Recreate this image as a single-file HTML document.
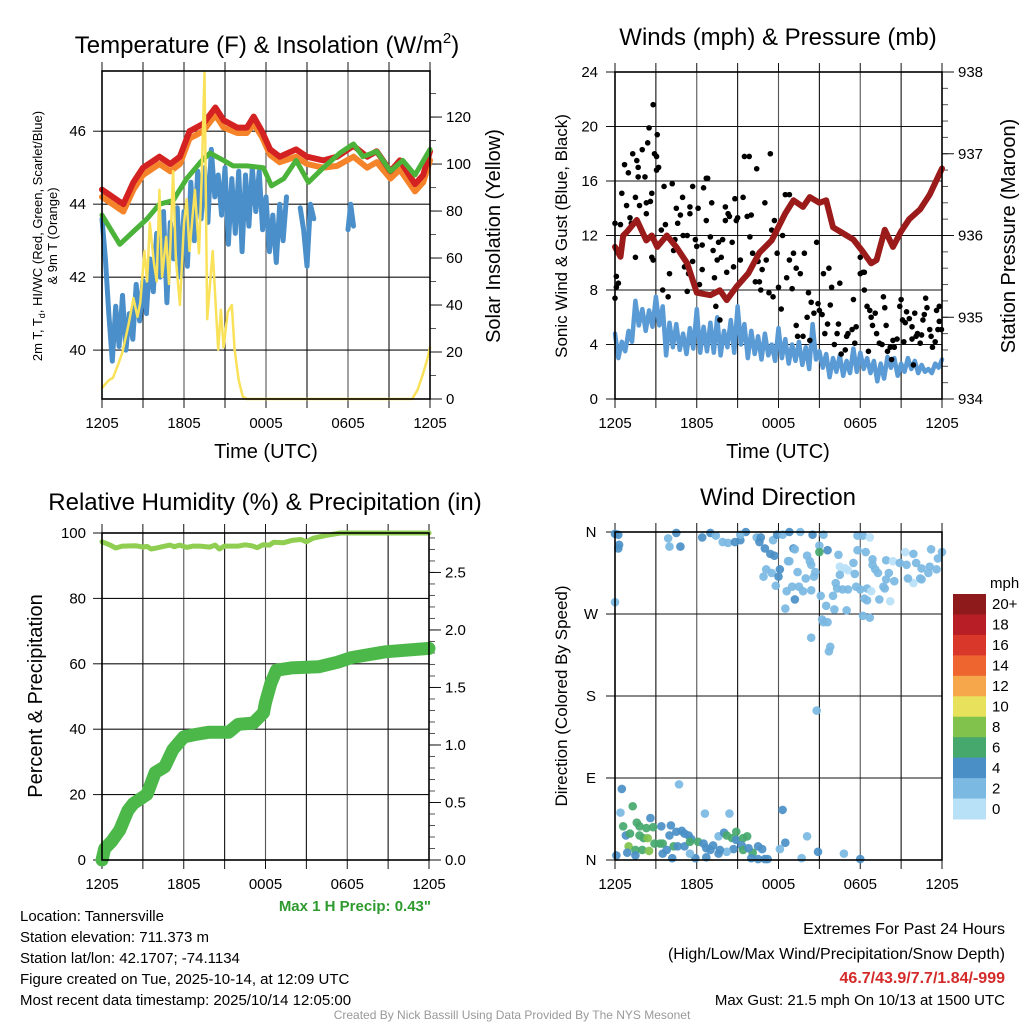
<!DOCTYPE html>
<html><head><meta charset="utf-8">
<style>
html,body{margin:0;padding:0;background:#fff;}
svg{display:block;font-family:"Liberation Sans",sans-serif;}
</style></head>
<body>
<svg id="chart" width="1024" height="1024" viewBox="0 0 1024 1024" xmlns="http://www.w3.org/2000/svg">
<rect x="0" y="0" width="1024" height="1024" fill="#fff"/>
<text x="267" y="53" font-size="24" text-anchor="middle">Temperature (F) &amp; Insolation (W/m<tspan font-size="15" dy="-10">2</tspan><tspan dy="10">)</tspan></text>
<text x="778" y="45" font-size="24" text-anchor="middle">Winds (mph) &amp; Pressure (mb)</text>
<text x="265" y="510" font-size="24" text-anchor="middle">Relative Humidity (%) &amp; Precipitation (in)</text>
<text x="778" y="505" font-size="24" text-anchor="middle">Wind Direction</text>
<text transform="translate(42,236) rotate(-90)" font-size="13" text-anchor="middle">2m T, T<tspan font-size="9" dy="3">d</tspan><tspan dy="-3">, HI/WC (Red, Green, Scarlet/Blue)</tspan></text>
<text transform="translate(57,236) rotate(-90)" font-size="13" text-anchor="middle">&amp; 9m T (Orange)</text>
<text transform="translate(500,236) rotate(-90)" font-size="20" text-anchor="middle">Solar Insolation (Yellow)</text>
<text x="266" y="458" font-size="20" text-anchor="middle">Time (UTC)</text>
<text transform="translate(567,236) rotate(-90)" font-size="17" text-anchor="middle">Sonic Wind &amp; Gust (Blue, Black)</text>
<text transform="translate(1015,236) rotate(-90)" font-size="20" text-anchor="middle">Station Pressure (Maroon)</text>
<text x="778" y="458" font-size="20" text-anchor="middle">Time (UTC)</text>
<text transform="translate(42,696) rotate(-90)" font-size="20" text-anchor="middle">Percent &amp; Precipitation</text>
<text transform="translate(567,696) rotate(-90)" font-size="17" text-anchor="middle">Direction (Colored By Speed)</text>
<text x="431" y="911" font-size="15" font-weight="bold" fill="#2e9a2e" text-anchor="end">Max 1 H Precip: 0.43"</text>
<g font-size="15">
<text x="20" y="921">Location: Tannersville</text>
<text x="20" y="942">Station elevation: 711.373 m</text>
<text x="20" y="963">Station lat/lon: 42.1707; -74.1134</text>
<text x="20" y="984">Figure created on Tue, 2025-10-14, at 12:09 UTC</text>
<text x="20" y="1005">Most recent data timestamp: 2025/10/14 12:05:00</text>
</g>
<g font-size="16" text-anchor="end">
<text x="1005" y="934">Extremes For Past 24 Hours</text>
<text x="1005" y="959">(High/Low/Max Wind/Precipitation/Snow Depth)</text>
<text x="1005" y="983" font-weight="bold" fill="#d42a2a">46.7/43.9/7.7/1.84/-999</text>
<text x="1005" y="1005" font-size="15">Max Gust: 21.5 mph On 10/13 at 1500 UTC</text>
</g>
<text x="512" y="1019" font-size="12" fill="#999" text-anchor="middle">Created By Nick Bassill Using Data Provided By The NYS Mesonet</text>
</svg>
<script>
const timeLabels = ["1205","1805","0005","0605","1205"];
const tempTicks = [40,42,44,46];
const insolTicks = [0,20,40,60,80,100,120];
const windTicks = [0,4,8,12,16,20,24];
const presTicks = [934,935,936,937,938];
const rhTicks = [0,20,40,60,80,100];
const precipTicks = ["0.0","0.5","1.0","1.5","2.0","2.5"];
const dirLabels = ["N","E","S","W","N"];
const dirTickDeg = [0,90,180,270,360];
const cbarLabels = ["20+","18","16","14","12","10","8","6","4","2","0"];
const cbarColors = ["#8e1a1c","#b81e25","#d9372a","#ee6530","#f6a74c","#e8e15c","#80c24b","#47a86d","#4a8fc6","#7bb9e3","#b8e1f7"];

const tRed = [0,1.56,2.3,3.0,4.2,5.0,5.7,6.4,7.4,8.3,8.9,9.9,10.6,11.1,11.7,12.3,13.0,14.2,15.0,16.2,17.2,18.4,19.4,20.1,21.1,21.8,22.9,23.5,24];
const redT = [44.4,44.0,44.6,45.0,45.3,45.1,45.3,46.0,46.2,46.65,46.3,46.1,46.1,46.4,46.0,45.5,45.3,45.5,45.3,45.2,45.3,45.6,45.3,45.45,44.9,45.2,44.55,44.8,45.45];
const orangeT = [44.2,43.8,44.4,44.8,45.1,44.9,45.1,45.8,46.0,46.45,46.1,45.95,45.95,46.2,45.85,45.35,45.15,45.3,45.1,45.0,45.05,45.3,45.0,45.15,44.7,44.95,44.35,44.6,45.2];
const tGreen = [0,1.3,2.3,3.3,4.2,5.2,6.2,7.2,7.9,8.9,9.6,10.6,11.8,12.4,13.3,14.2,15.1,16.2,17.4,18.4,19.1,20.1,21.1,22.0,22.9,24];
const greenT = [43.7,42.9,43.25,43.6,44.0,44.1,44.7,45.15,45.4,45.2,45.05,45.05,45.0,44.5,44.7,45.2,44.6,45.0,45.4,45.65,45.3,45.45,44.9,45.2,44.8,45.5];
const tBlue = [0,0.25,0.5,0.75,1,1.25,1.5,1.75,2,2.25,2.5,2.75,3,3.25,3.5,3.75,4,4.25,4.5,4.75,5,5.25,5.5,5.75,6,6.25,6.5,6.75,7,7.25,7.5,7.75,8,8.25,8.5,8.75,9,9.25,9.5,9.75,10,10.25,10.5,10.75,11,11.25,11.5,11.75,12,12.25,12.5,12.75,13,13.25,13.5,13.75,14,14.25,14.5,14.75,15,15.25,15.5,15.75,18,18.2,18.4];
const blueT = [43.6,42.5,41.0,39.7,41.2,40.1,41.5,40.0,41.0,40.3,41.8,40.8,41.9,41.0,42.5,41.6,43.2,42.0,43.8,41.3,43.5,42.5,43.9,42.0,43.8,42.3,44.6,43.0,44.9,43.6,45.0,43.5,45.5,44.2,44.8,43.7,45.0,42.9,44.7,43.2,44.9,42.7,44.8,43.4,45.0,43.8,44.9,43.3,44.2,42.7,43.7,42.4,44.0,43.0,44.2,null,44.0,null,43.9,43.3,42.3,44.0,43.6,null,43.3,44.0,43.4];
const tSun = [0,0.5,0.8,1.2,1.5,1.95,2.3,2.6,2.8,3.1,3.3,3.5,3.8,4.0,4.2,4.4,4.7,4.9,5.2,5.4,5.7,6.0,6.2,6.4,6.8,7.1,7.3,7.5,7.7,8.1,8.5,8.7,8.9,9.2,9.5,9.7,10.0,10.3,10.6,22.7,23.1,23.5,23.8,24];
const sunW = [4.7,8,9,15,20,32,43,35,41,63,50,75,58,50,89,52,69,49,97,60,40,75,85,63,89,62,96,139,34,63,21,38,22,37,40,21,8,1,0,0,4,11,17,22];

const tWind = [0,0.25,0.5,0.75,1,1.25,1.5,1.75,2,2.25,2.5,2.75,3,3.25,3.5,3.75,4,4.25,4.5,4.75,5,5.25,5.5,5.75,6,6.25,6.5,6.75,7,7.25,7.5,7.75,8,8.25,8.5,8.75,9,9.25,9.5,9.75,10,10.25,10.5,10.75,11,11.25,11.5,11.75,12,12.25,12.5,12.75,13,13.25,13.5,13.75,14,14.25,14.5,14.75,15,15.25,15.5,15.75,16,16.25,16.5,16.75,17,17.25,17.5,17.75,18,18.25,18.5,18.75,19,19.25,19.5,19.75,20,20.25,20.5,20.75,21,21.25,21.5,21.75,22,22.25,22.5,22.75,23,23.25,23.5,23.75,24];
const windSpd = [4.8,3.0,4.2,3.5,5.0,4.2,7.2,5.4,6.6,5.0,6.5,5.3,7.5,5.4,6.8,3.2,5.6,3.8,5.5,3.6,4.8,3.3,5.2,3.7,6.6,3.4,5.3,3.5,5.6,3.4,6.0,3.2,5.0,3.8,5.8,3.4,6.8,4.0,5.5,3.0,5.0,3.3,4.6,2.9,4.8,3.2,4.0,2.8,5.2,3.0,4.4,2.6,4.0,2.8,4.2,2.5,3.8,2.2,5.5,2.9,3.5,2.3,3.3,1.6,3.0,2.0,3.2,1.7,2.8,1.9,3.7,2.0,3.4,2.2,3.0,1.9,2.8,1.3,2.6,1.5,3.1,2.3,3.0,1.7,2.6,2.0,3.0,2.2,2.8,1.9,2.5,2.0,2.2,1.9,2.6,2.3,2.9];
const tPres = [0,0.4,0.6,0.85,1.6,2.3,2.7,3.1,3.8,4.5,5.3,6.0,7.0,7.7,8.2,8.9,9.8,10.6,11.5,12.5,13.1,13.8,14.3,15.0,15.5,16.0,16.7,17.5,18.2,18.8,19.2,19.8,20.4,21.0,21.6,22.4,23.1,23.8,24];
const presMb = [935.86,935.74,936.0,936.04,936.19,935.94,936.0,935.86,936.0,935.86,935.66,935.3,935.27,935.33,935.21,935.37,935.54,935.79,935.94,936.27,936.43,936.35,936.47,936.4,936.43,936.1,936.03,935.95,935.8,935.66,935.7,936.07,935.86,936.05,936.2,936.32,936.5,936.75,936.82];
const tGust = [0,0.1,0.1,0.25,0,0.4,0.5,0.7,0.85,0.98,1.1,1.2,1.3,1.5,1.6,1.7,1.7,1.8,2.0,2.2,2.3,2.3,2.4,2.6,2.5,2.8,2.7,2.8,2.9,3.05,3.1,3.05,3.2,1.5,2.7,3.4,3.6,3.7,3.5,3.9,4.0,4.2,4.3,4.4,4.5,4.6,4.8,4.96,5.0,5.1,5.3,5.4,5.3,5.5,5.5,5.7,5.7,5.9,6.0,6.1,6.2,6.4,6.4,6.5,6.7,6.7,6.8,7.0,7.1,7.2,7.3,7.4,7.5,7.6,7.7,7.8,7.9,8.1,8.1,8.2,8.3,8.4,8.6,8.7,8.8,8.9,9.0,9.2,9.4,9.5,9.7,9.85,9.9,10.0,10.1,10.3,10.4,10.5,10.6,10.7,10.8,11.0,11.1,11.3,11.4,11.5,11.6,11.7,11.9,12.0,12.2,12.3,12.5,12.6,12.8,12.8,13.0,13.1,13.3,13.3,13.4,13.6,13.8,13.9,14.1,14.2,14.3,14.4,14.6,14.8,14.9,15.0,15.2,15.3,15.4,15.6,15.7,15.8,15.9,16.1,16.3,16.4,16.5,16.6,16.9,17.0,17.1,17.4,17.5,17.6,17.7,18.0,18.0,18.2,18.3,18.3,18.5,18.6,18.7,18.8,18.9,19.1,19.2,19.4,19.6,19.7,19.8,19.9,20.0,20.2,20.3,20.4,20.5,20.7,20.9,21.0,21.1,21.2,21.3,21.4,21.6,21.8,21.8,21.9,22.0,22.1,22.2,22.4,22.5,22.6,22.7,22.8,22.9,23.1,23.2,23.3,23.5,23.6,23.7,23.8,23.96,23.8];
const gustSpd = [12.9,9.0,8.2,8.5,7.4,12.8,15.1,17.2,14.2,16.6,13.3,12.9,18.0,14.8,17.5,17.0,16.3,14.2,18.3,16.3,13.6,14.4,18.8,14.5,19.9,21.6,15.1,10.2,18.0,16.8,19.4,17.8,17.0,10.4,10.4,12.4,15.6,12.8,8.0,7.5,9.2,15.8,10.9,11.7,14.0,12.9,13.5,14.8,12.0,9.7,12.0,9.2,7.9,13.6,14.1,15.6,10.1,11.7,11.2,14.0,8.4,9.5,11.3,15.5,13.1,16.2,16.2,11.9,14.4,10.9,8.9,6.8,10.2,11.5,5.8,10.4,11.7,13.1,14.1,9.3,13.6,13.4,11.5,9.7,14.7,13.1,13.3,10.2,14.8,17.8,13.4,17.8,11.9,13.5,10.7,8.6,16.9,10.1,8.6,8.0,9.5,14.4,10.2,7.8,18.0,12.4,7.5,13.1,10.7,8.2,6.6,12.0,15.0,8.9,15.0,10.2,8.1,10.7,5.4,9.6,4.6,9.2,4.6,10.7,6.0,7.8,4.3,7.1,6.3,11.5,7.0,6.5,6.2,9.2,4.8,5.5,9.6,6.9,8.2,4.0,4.8,5.5,8.5,3.3,3.6,4.6,4.8,5.1,7.3,4.1,5.3,9.2,10.4,9.3,8.0,9.3,6.8,3.5,6.5,6.0,5.4,6.3,4.8,4.1,4.0,7.5,6.7,5.4,3.5,3.8,2.9,4.3,3.8,4.4,6.8,7.3,5.8,4.2,5.6,6.4,5.9,5.3,4.4,2.5,6.3,4.6,4.8,4.1,4.7,5.8,6.2,7.4,6.7,5.1,4.6,3.8,4.2,6.5,5.1,5.7,5.1,6.8];

const tRH = [0,0.6,1,1.5,2.5,3,3.3,3.6,4,4.5,5,5.3,5.7,6.2,6.7,7.2,7.9,8.3,8.6,9,10,10.5,11,11.4,11.8,12.3,12.6,13.3,14,14.6,15,15.5,16.5,17.5,24];
const rhPct = [97.3,96.3,95.4,96.0,96.1,95.7,95.9,95.1,95.4,95.9,96.3,95.8,96.3,95.6,96.0,96.0,95.7,96.3,95.1,96.0,96.0,96.4,96.1,95.5,96.4,96.3,97.2,97.0,97.8,98.0,97.3,98.4,99.3,100,100];
const tPrecip = [0,0.2,0.7,1.3,1.9,2.3,3.3,3.9,4.6,5.2,6.0,6.8,7.8,9.3,10.0,11.1,11.85,12.0,12.4,12.8,13.9,15.9,17.3,18.3,20.8,24];
const precipIn = [0,0.1,0.16,0.26,0.43,0.49,0.57,0.76,0.81,0.96,1.07,1.09,1.11,1.11,1.18,1.19,1.28,1.37,1.54,1.65,1.67,1.68,1.72,1.76,1.81,1.84];

const tDir = [0,0.24,0.3,0.24,0,3.9,4.5,4.0,4.8,6.4,7.0,7.4,7.9,8.3,8.8,9.2,9.6,9.2,10.4,10.7,10.6,11.6,11.9,12.3,12.8,13.6,14.5,15.3,15.0,15.6,17.8,18.2,18.7,11.0,11.4,11.7,13.1,13.2,14.1,14.3,14.4,15.0,16.4,17.8,18.4,18.9,19.9,20.4,21.3,21.9,23.2,24,23.7,20.9,21.4,22.1,22.5,23.1,23.6,23.0,22.4,21.9,22.5,21.5,20.5,20.1,19.9,19.7,19.3,19.1,18.9,19.8,17.5,16.5,16.9,17.1,17.6,16.5,16.2,16.3,16.7,17.1,17.7,18.0,18.5,18.8,18.3,18.5,19.4,20.2,12.7,12.8,11.1,10.9,11.5,12.1,12.0,13.4,14.0,14.7,14.6,13.5,13.0,12.6,13.8,14.4,13.2,12.5,11.8,15.1,16.0,15.5,16.1,17.0,18.2,18.7,15.2,15.3,15.6,14.4,15.8,15.7,14.8,
0.5,0.4,1.3,2.6,4.7,6.6,8.4,12.3,0.6,0.8,1.1,1.6,1.8,2.3,2.8,3.4,4.1,1.8,2.1,2.4,2.9,3.3,3.5,1.0,1.5,2.0,2.5,0.9,0.1,1.5,4.0,4.5,4.9,5.1,5.4,5.6,4.3,4.6,5.1,5.5,6.1,6.5,6.7,7.2,7.0,7.6,8.0,8.2,8.6,8.9,8.9,9.4,9.7,9.3,9.4,10.1,9.8,10.5,10.8,8.7,8.2,7.7,4.2,5.9,6.7,10.0,10.5,11.0,11.2,12.1,12.5,14.1,13.7,14.9,16.8,18.0,3.5,3.8,5.5,7.6];
const dirDeg = [358,357,346,342,283,353,359,344,344,354,359,356,349,348,349,351,360,357,354,354,349,351,357,357,360,360,357,357,345,340,356,356,354,342,336,334,342,341,334,328,324,338,335,340,338,330,329,328,338,336,341,338,331,326,324,326,320,322,319,315,309,304,308,309,306,315,308,300,315,319,324,298,326,322,320,318,314,313,304,298,297,297,300,297,298,295,287,285,286,284,328,328,319,311,315,319,311,316,309,316,311,300,300,295,295,296,286,276,301,290,290,279,275,274,268,266,264,261,261,244,234,229,164,
78,52,59,46,83,51,51,55,37,27,29,41,37,35,36,37,38,27,24,24,18,18,18,15,11,11,10,8,5,5,27,31,32,29,27,23,15,15,15,20,20,18,13,16,11,26,30,27,24,31,22,24,26,16,11,8,13,15,12,12,9,11,2,2,3,2,1,1,1,12,19,26,2,9,7,1,7,11,7,7];
const dirSpd = [5,5,5,5,3,3,5,3,5,5,5,3,3,3,5,5,5,3,3,5,5,3,5,3,5,3,5,3,3,5,3,3,1,5,5,5,5,3,3,3,3,7,3,3,3,3,3,1,1,3,3,3,3,3,3,3,3,3,3,3,3,1,3,3,3,3,3,3,3,3,3,3,3,1,1,1,3,3,3,3,3,3,3,3,3,1,3,3,3,1,3,3,3,3,3,5,5,3,3,3,3,3,3,3,3,3,5,3,3,3,3,3,3,3,3,3,3,3,3,3,3,3,3,
5,3,7,5,3,3,3,5,7,5,7,7,7,7,7,5,5,7,7,9,7,7,7,9,7,7,9,5,5,5,5,5,5,5,5,5,7,5,5,7,7,5,5,5,5,3,5,7,7,7,5,7,7,5,7,7,5,5,5,5,3,5,5,5,5,5,5,5,5,3,5,3,3,5,3,5,5,5,3,5];
const spdColorsBins = [2,4,6,8,10];

const svg = document.getElementById('chart');
const NS = 'http://www.w3.org/2000/svg';
function mk(tag, attrs, parent){
  const el = document.createElementNS(NS, tag);
  for (const k in attrs) el.setAttribute(k, attrs[k]);
  (parent||svg).appendChild(el);
  return el;
}
function lin(d0,d1,r0,r1){ return v => r0 + (v-d0)/(d1-d0)*(r1-r0); }
function pathD(ts, vs, xs, ys){
  let d = '', pen = false;
  for (let i=0;i<ts.length;i++){
    if (vs[i]===null){ pen=false; continue; }
    d += (pen?'L':'M') + xs(ts[i]).toFixed(1) + ',' + ys(vs[i]).toFixed(1);
    pen = true;
  }
  return d;
}
function line(g, ts, vs, xs, ys, color, w, name){
  const p = mk('path', {d: pathD(ts,vs,xs,ys), fill:'none', stroke:color, 'stroke-width':w, 'stroke-linejoin':'round', 'stroke-linecap':'round'}, g);
  
  
  return p;
}
function frame(P, name){
  const g = mk('g', {});
  
  
  const xs = lin(0,24,P.x0,P.x1);
  for (let h=3; h<24; h+=3){
    const l = mk('line', {x1:xs(h), x2:xs(h), y1:P.y0, y2:P.y1, stroke:(h%6===0?'#555':'#111'), 'stroke-width':1.1}, g);
    
    
  }
  for (let h=0; h<=24; h+=3){
    const t = mk('line', {x1:xs(h), x2:xs(h), y1:P.y1, y2:P.y1+9, stroke:'#111', 'stroke-width':1}, g);
    
    
    const t2 = mk('line', {x1:xs(h), x2:xs(h), y1:P.y0, y2:P.y0-9, stroke:'#111', 'stroke-width':1}, g);
    
    
  }
  timeLabels.forEach((s,i)=>{
    const tx = mk('text', {x:xs(i*6), y:P.y1+29, 'font-size':15, 'text-anchor':'middle'}, g);
    tx.textContent = s;
    
    
  });
  return {g, xs};
}
function hgrid(g, P, ticks, ys, labelX, anchor, labels){
  ticks.forEach((v,i)=>{
    const y = ys(v);
    if (y>P.y0+1 && y<P.y1-1){
      const l = mk('line', {x1:P.x0, x2:P.x1, y1:y, y2:y, stroke:'#111', 'stroke-width':1.1}, g);
      
      
    }
    const tk = mk('line', {x1:P.x0-9, x2:P.x0, y1:y, y2:y, stroke:'#111'}, g);
    
    
    const tx = mk('text', {x:labelX, y:y+5, 'font-size':15, 'text-anchor':anchor}, g);
    tx.textContent = labels ? labels[i] : v;
    
    
  });
}
function rightAxis(g, P, ticks, ys, labels, minorStep, dmin, dmax){
  for (let v=dmin; v<=dmax+1e-9; v+=minorStep){
    const y = ys(v);
    if (y<P.y0-0.5) continue;
    const m = mk('line', {x1:P.x1, x2:P.x1+6, y1:y, y2:y, stroke:'#555'}, g);
    
    
  }
  ticks.forEach((v,i)=>{
    const y = ys(v);
    const tk = mk('line', {x1:P.x1, x2:P.x1+12, y1:y, y2:y, stroke:'#111'}, g);
    
    
    const tx = mk('text', {x:P.x1+16, y:y+5, 'font-size':15}, g);
    tx.textContent = labels ? labels[i] : v;
    
    
  });
}
function box(g, P){
  const r = mk('rect', {x:P.x0, y:P.y0, width:P.x1-P.x0, height:P.y1-P.y0, fill:'none', stroke:'#000', 'stroke-width':1.6}, g);
  
  
}

(function(){
  const P = {x0:102, x1:430, y0:71, y1:399};
  const {g, xs} = frame(P, 'temperature-panel');
  const ys = lin(38.66, 47.65, P.y1, P.y0);
  const yi = lin(0, 139.6, P.y1, P.y0);
  hgrid(g, P, tempTicks, ys, 86, 'end');
  rightAxis(g, P, insolTicks, yi, null, 10, 0, 139);
  line(g, tRed, orangeT, xs, ys, '#f5832a', 6, 'orange-9m-temp-line');
  line(g, tRed, redT, xs, ys, '#d42222', 6, 'red-2m-temp-line');
  line(g, tBlue, blueT, xs, ys, '#4a8fc9', 5, 'blue-windchill-line');
  line(g, tGreen, greenT, xs, ys, '#4bb33a', 5, 'green-dewpoint-line');
  line(g, tSun, sunW, xs, yi, '#f9e25a', 2.5, 'yellow-insolation-line');
  box(g, P);
})();

(function(){
  const P = {x0:615, x1:942, y0:72, y1:399};
  const {g, xs} = frame(P, 'winds-panel');
  const ys = lin(0, 24, P.y1, P.y0);
  const yp = lin(934, 938, P.y1, P.y0);
  hgrid(g, P, windTicks, ys, 598, 'end');
  rightAxis(g, P, presTicks, yp, null, 0.2, 934, 938);
  line(g, tWind, windSpd, xs, ys, '#5b9bd5', 4.5, 'sonic-wind-line');
  for (let i=0;i<tGust.length;i++){
    const c = mk('circle', {cx:xs(tGust[i]), cy:ys(gustSpd[i]), r:2.8, fill:'#000'}, g);
    
    
  }
  line(g, tPres, presMb, xs, yp, '#9b1b1b', 6, 'pressure-line');
  box(g, P);
})();

(function(){
  const P = {x0:102, x1:429, y0:533, y1:860};
  const {g, xs} = frame(P, 'humidity-panel');
  const ys = lin(0, 100, P.y1, P.y0);
  const yp = lin(0, 2.843, P.y1, P.y0);
  hgrid(g, P, rhTicks, ys, 86, 'end');
  rightAxis(g, P, [0,0.5,1,1.5,2,2.5], yp, precipTicks, 0.1, 0, 2.84);
  line(g, tRH, rhPct, xs, ys, '#8fce50', 5, 'relative-humidity-line');
  line(g, tPrecip, precipIn, xs, yp, '#4cb84a', 13, 'precipitation-line');
  box(g, P);
})();

(function(){
  const P = {x0:615, x1:942, y0:532, y1:860};
  const {g, xs} = frame(P, 'wind-direction-panel');
  const ys = lin(0, 360, P.y1, P.y0);
  hgrid(g, P, dirTickDeg, ys, 591, 'middle', dirLabels);
  function col(s){
    let idx = 0;
    while (idx<spdColorsBins.length && s>=spdColorsBins[idx]) idx++;
    return cbarColors[cbarColors.length-1-idx];
  }
  for (let i=0;i<tDir.length;i++){
    const c = mk('circle', {cx:xs(tDir[i]), cy:ys(dirDeg[i]), r:4.3, fill:col(dirSpd[i]), 'fill-opacity':0.92}, g);
    
    
  }
  box(g, P);
  const cb = mk('g', {});
  
  
  const h = (819-594)/cbarColors.length;
  cbarColors.forEach((c,i)=>{
    const r = mk('rect', {x:953, y:594+i*h, width:33, height:h+0.5, fill:c}, cb);
    
    
    const t = mk('text', {x:992, y:594+i*h+h/2+5, 'font-size':15}, cb);
    t.textContent = cbarLabels[i];
    
    
  });
  const u = mk('text', {x:990, y:588, 'font-size':15}, cb);
  u.textContent = 'mph';
  
  
})();
</script>
</body></html>
